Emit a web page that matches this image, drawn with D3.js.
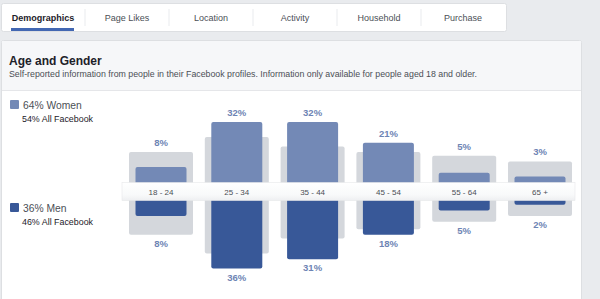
<!DOCTYPE html>
<html><head><meta charset="utf-8">
<script src="https://cdn.jsdelivr.net/npm/d3@7"></script>
<style>
html,body{margin:0;padding:0;background:#e9ebee;}
svg{display:block;font-family:"Liberation Sans",Arial,Helvetica,sans-serif;}
</style></head>
<body>
<svg id="c" width="600" height="299"></svg>
<script>
const tabs = ["Demographics","Page Likes","Location","Activity","Household","Purchase"];
const ageGroups = ["18 - 24","25 - 34","35 - 44","45 - 54","55 - 64","65 +"];
const womenValues = [8,32,32,21,5,3];
const menValues = [8,36,31,18,5,2];
const womenAllFacebook = [16,24,19,16,14,11];
const menAllFacebook = [18,28,20,15,11,8];
const legendWomen = ["64% Women","54% All Facebook"];
const legendMen = ["36% Men","46% All Facebook"];
const title = "Age and Gender";
const subtitle = "Self-reported information from people in their Facebook profiles. Information only available for people aged 18 and older.";

const svg = d3.select("#c");
const textGray = "#4b4f56";

// Tabs card
svg.append("rect").attr("x",1.5).attr("y",3.5).attr("width",505).attr("height",28).attr("rx",2)
  .attr("fill","#fff").attr("stroke","#dddfe2");
const tabX = d3.scalePoint().domain(tabs).range([43,463]);
svg.selectAll(".tab").data(tabs).join("text")
  .attr("x",d=>tabX(d)).attr("y",20.5).attr("text-anchor","middle")
  .attr("font-size",9).attr("font-weight",(d,i)=>i===0?"bold":"normal")
  .attr("fill",(d,i)=>i===0?"#1d2129":textGray).text(d=>d);
svg.selectAll(".sep").data(tabs.slice(1)).join("line")
  .attr("x1",d=>tabX(d)-42).attr("x2",d=>tabX(d)-42).attr("y1",9).attr("y2",26)
  .attr("stroke","#e9ebee");
svg.append("rect").attr("x",11).attr("y",28).attr("width",63).attr("height",3).attr("fill","#4267b2");

// Main card
svg.append("rect").attr("x",1.5).attr("y",40.5).attr("width",580).attr("height",262).attr("rx",2)
  .attr("fill","#fff").attr("stroke","#dddfe2");
svg.append("rect").attr("x",2).attr("y",41).attr("width",579).attr("height",49).attr("fill","#f6f7f9");
svg.append("line").attr("x1",2).attr("x2",581).attr("y1",90.5).attr("y2",90.5).attr("stroke","#e5e6e9");
svg.append("text").attr("x",9).attr("y",64.5).attr("font-size",12).attr("font-weight","bold")
  .attr("fill","#1d2129").text(title);
svg.append("text").attr("x",9).attr("y",77).attr("font-size",8.8).attr("fill",textGray).text(subtitle);

// Legend
const womenColor = "#7389b6", menColor = "#385898", grayColor = "#d4d7dc", labelColor = "#6d84b4";
function legend(y, color, lines){
  svg.append("rect").attr("x",10).attr("y",y).attr("width",9).attr("height",9).attr("rx",1).attr("fill",color);
  svg.append("text").attr("x",23).attr("y",y+8.5).attr("font-size",10.3).attr("fill",textGray).text(lines[0]);
  svg.append("text").attr("x",22).attr("y",y+22).attr("font-size",8.9).attr("fill","#1d2129").text(lines[1]);
}
legend(100, womenColor, legendWomen);
legend(203, menColor, legendMen);

// Chart
const x = d3.scalePoint().domain(ageGroups).range([161,540]);
const yW = d3.scaleLinear().domain([0,36]).range([182,182-67.5]);
const yM = d3.scaleLinear().domain([0,36]).range([201,201+67.5]);
const gw = 64, bw = 51;

const g = svg.append("g");
ageGroups.forEach((a,i)=>{
  const cx = x(a);
  // women
  g.append("rect").attr("x",cx-gw/2).attr("y",yW(womenAllFacebook[i])).attr("width",gw)
    .attr("height",yW(0)-yW(womenAllFacebook[i])+3).attr("rx",2).attr("fill",grayColor);
  g.append("rect").attr("x",cx-bw/2).attr("y",yW(womenValues[i])).attr("width",bw)
    .attr("height",yW(0)-yW(womenValues[i])+3).attr("rx",2).attr("fill",womenColor);
  const tw = Math.min(yW(womenValues[i]), yW(womenAllFacebook[i]));
  g.append("text").attr("x",cx).attr("y",tw-6).attr("text-anchor","middle").attr("font-size",9.5)
    .attr("font-weight","bold").attr("fill",labelColor).text(womenValues[i]+"%");
  // men
  g.append("rect").attr("x",cx-gw/2).attr("y",yM(0)-3).attr("width",gw)
    .attr("height",yM(menAllFacebook[i])-yM(0)+3).attr("rx",2).attr("fill",grayColor);
  g.append("rect").attr("x",cx-bw/2).attr("y",yM(0)-3).attr("width",bw)
    .attr("height",yM(menValues[i])-yM(0)+3).attr("rx",2).attr("fill",menColor);
  const bm = Math.max(yM(menValues[i]), yM(menAllFacebook[i]));
  g.append("text").attr("x",cx).attr("y",bm+12).attr("text-anchor","middle").attr("font-size",9.5)
    .attr("font-weight","bold").attr("fill",labelColor).text(menValues[i]+"%");
});

// label band
const defs = svg.append("defs");
const grad = defs.append("linearGradient").attr("id","bandg").attr("x1",0).attr("x2",0).attr("y1",0).attr("y2",1);
grad.append("stop").attr("offset","0%").attr("stop-color","#ffffff");
grad.append("stop").attr("offset","70%").attr("stop-color","#f8f9fa");
grad.append("stop").attr("offset","100%").attr("stop-color","#eeeff1");
svg.append("rect").attr("x",122).attr("y",182.5).attr("width",453).attr("height",18).attr("fill","url(#bandg)")
  .attr("stroke","#e7e8ea").attr("stroke-width",0.6);
svg.selectAll(".age").data(ageGroups).join("text")
  .attr("x",d=>x(d)).attr("y",194.5).attr("text-anchor","middle").attr("font-size",8)
  .attr("fill",textGray).text(d=>d);

// right-side page background beyond card
svg.append("rect").attr("x",583).attr("y",0).attr("width",17).attr("height",299).attr("fill","#e9ebee");
</script>
</body></html>
